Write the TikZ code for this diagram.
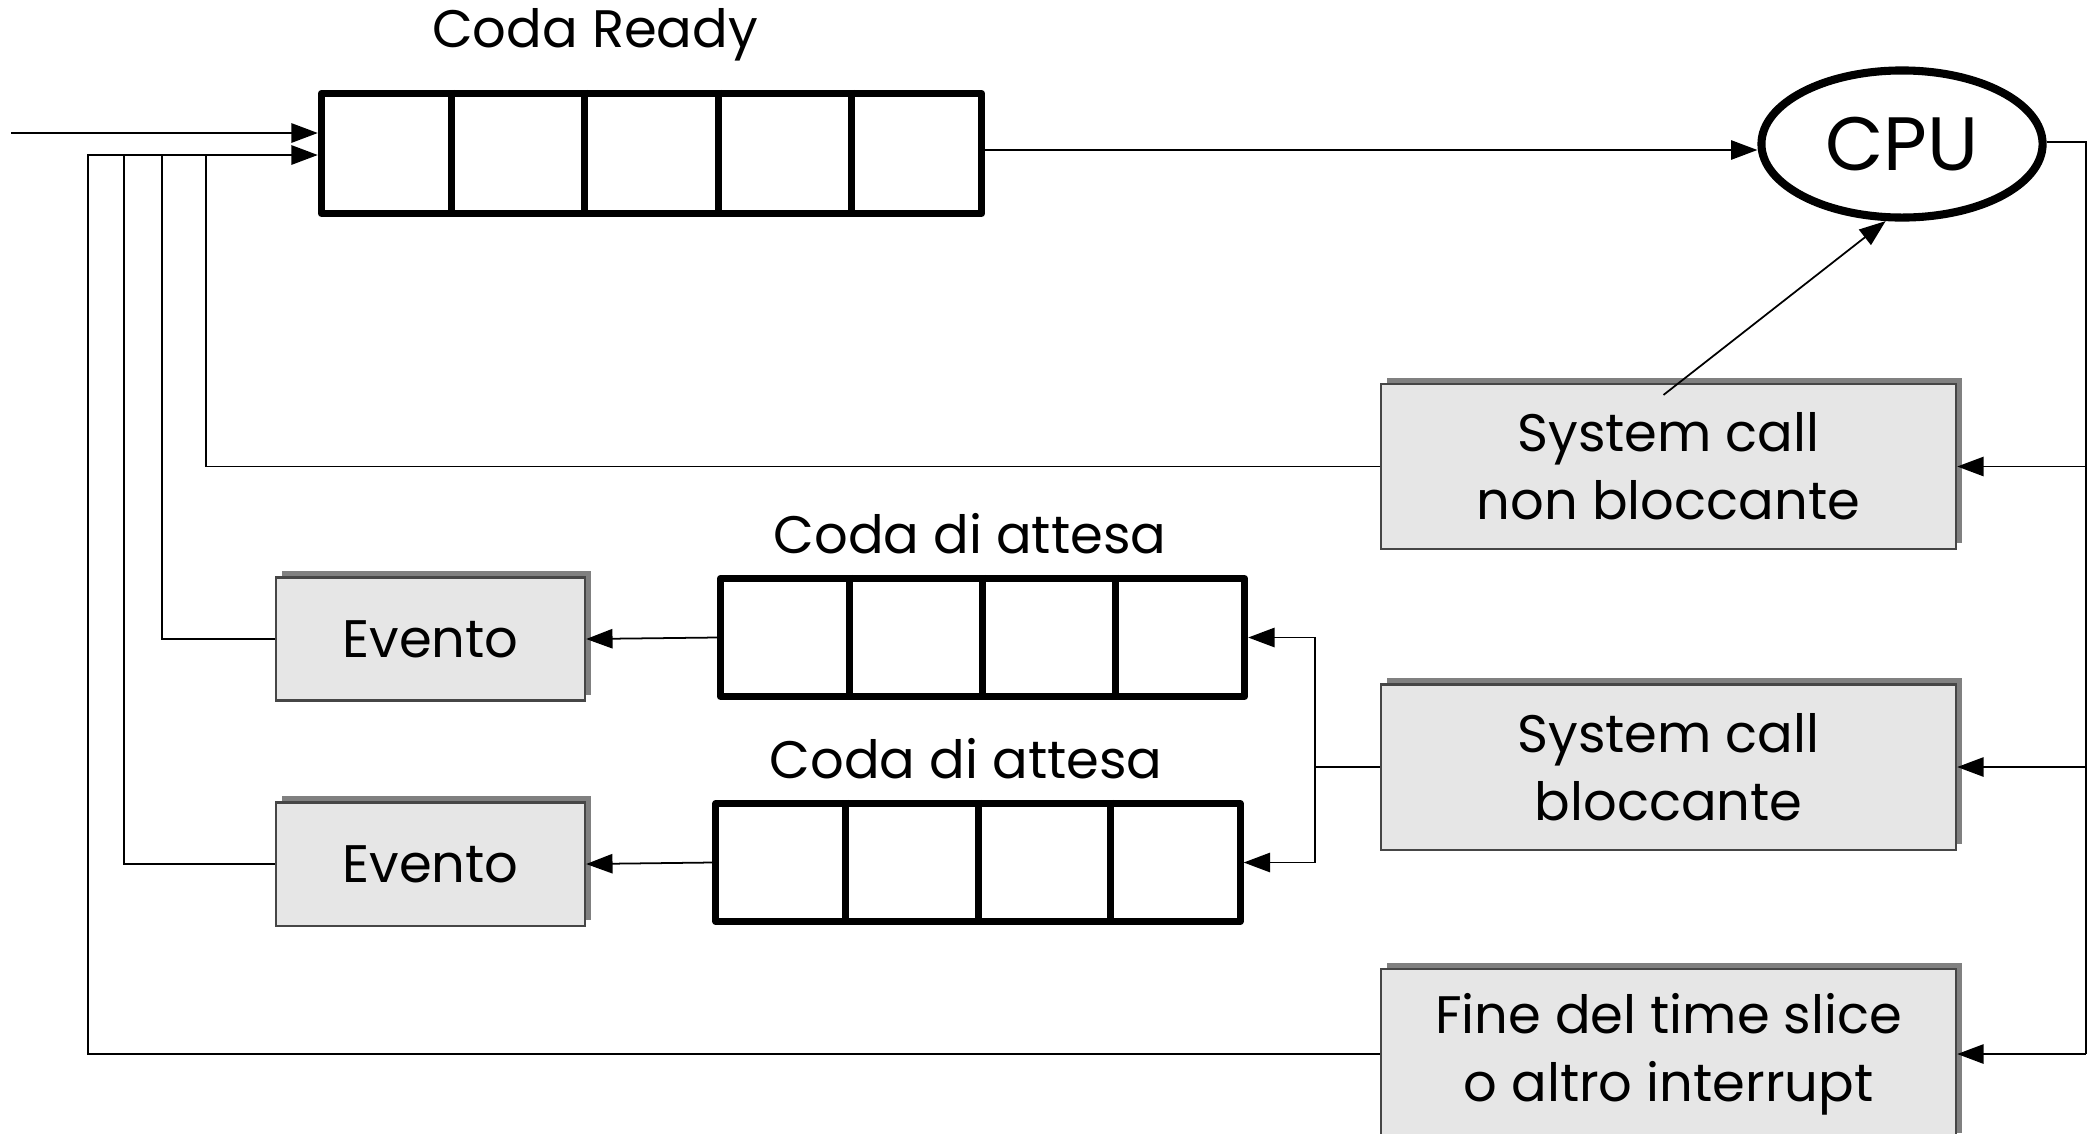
\documentclass[tikz,border=0pt]{standalone}
\usepackage{fontspec}
\setmainfont{Poppins}
\usetikzlibrary{shapes.geometric,arrows.meta,shadows,calc,positioning}
\definecolor{boxGray}{RGB}{230,230,230}
\definecolor{shadowGray}{RGB}{128,128,128}
\definecolor{edgeGray}{RGB}{70,70,70}

\begin{document}
\begin{tikzpicture}[x=0.01cm,y=-0.01cm,
    txt/.style={font=\fontsize{15pt}{19.3pt}\selectfont,align=center},
    queue/.style={draw,line width=2pt,line join=round,inner sep=0pt},
    cell/.style={line width=2pt},
    event/.style={txt,draw=edgeGray,line width=0.6pt,fill=boxGray,inner sep=0pt,
        drop shadow={shadow xshift=0.06cm,shadow yshift=0.06cm,fill=shadowGray,opacity=1}},
    conn/.style={line width=0.5pt},
    arr/.style={conn,-{Triangle[length=7.5pt,width=5.5pt]}}]
    \useasboundingbox (0,0) rectangle (2098,1133);

    % Queues
    \node[queue,minimum width=6.6cm,minimum height=1.2cm] (ready) at (651.5,153.5) {};
    \node[txt] (readylbl) at (595,35) {Coda Ready};
    \node[queue,minimum width=5.24cm,minimum height=1.18cm] (wq1) at (982.5,637.5) {};
    \node[txt] (wq1lbl) at (970,534) {Coda di attesa};
    \node[queue,minimum width=5.24cm,minimum height=1.18cm] (wq2) at (978,862.5) {};
    \node[txt] (wq2lbl) at (966,759) {Coda di attesa};
    \foreach \i in {1,...,4}
        \draw[cell] ($(ready.north west)!\i/5!(ready.north east)$) -- ($(ready.south west)!\i/5!(ready.south east)$);
    \foreach \q in {wq1,wq2}
        \foreach \i in {1,2,3}
            \draw[cell] ($(\q.north west)!\i/4!(\q.north east)$) -- ($(\q.south west)!\i/4!(\q.south east)$);

    % CPU
    \node[draw,ellipse,line width=2.3pt,inner sep=0pt,minimum width=2.81cm,minimum height=1.47cm,
        font=\fontsize{21.5pt}{24pt}\selectfont] (cpu) at (1902,144) {CPU};

    % Events and system calls
    \node[event,minimum width=3.09cm,minimum height=1.23cm] (ev1) at (430.5,639) {Evento};
    \node[event,minimum width=3.09cm,minimum height=1.23cm] (ev2) at (430.5,864) {Evento};
    \node[event,minimum width=5.75cm,minimum height=1.65cm] (scnb) at (1668.5,466.5) {System call\\non bloccante};
    \node[event,minimum width=5.75cm,minimum height=1.65cm] (scb) at (1668.5,767) {System call\\bloccante};
    \node[event,minimum width=5.75cm,minimum height=1.70cm] (slice) at (1668.5,1054) {Fine del time slice\\o altro interrupt};

    % Connectors
    \coordinate (in) at (11,133);
    \coordinate (c1) at (88,155);
    \coordinate (c2) at (124,155);
    \coordinate (c3) at (162,155);
    \coordinate (c4) at (206,155);
    \coordinate (bus) at (2086,142);
    \coordinate (split) at (1315,767);
    \draw[arr] (in) -- (ready.west |- in);
    \draw[arr] (ready.east |- 0,150) -- (cpu.west |- 0,150);
    \draw[arr] ($(scnb.north)+(-5,12)$) -- (cpu.-102);
    \draw[conn] (cpu.east |- bus) -- (bus) -- (bus |- slice.east);
    \draw[arr] (bus |- scnb.east) -- (scnb.east);
    \draw[arr] (bus |- scb.east) -- (scb.east);
    \draw[arr] (bus |- slice.east) -- (slice.east);
    \draw[conn] (scb.west) -- (split);
    \draw[arr] (split) |- (wq1.east);
    \draw[arr] (split) |- (wq2.east);
    \draw[arr] (wq1.west) -- (ev1.east);
    \draw[arr] (wq2.west) -- (ev2.east);
    \draw[conn] (slice.west) -| (c1) -- (c4);
    \draw[conn] (ev2.west) -| (c2);
    \draw[conn] (ev1.west) -| (c3);
    \draw[conn] (scnb.west) -| (c4);
    \draw[arr] (c4) -- (ready.west |- c4);
\end{tikzpicture}
\end{document}
